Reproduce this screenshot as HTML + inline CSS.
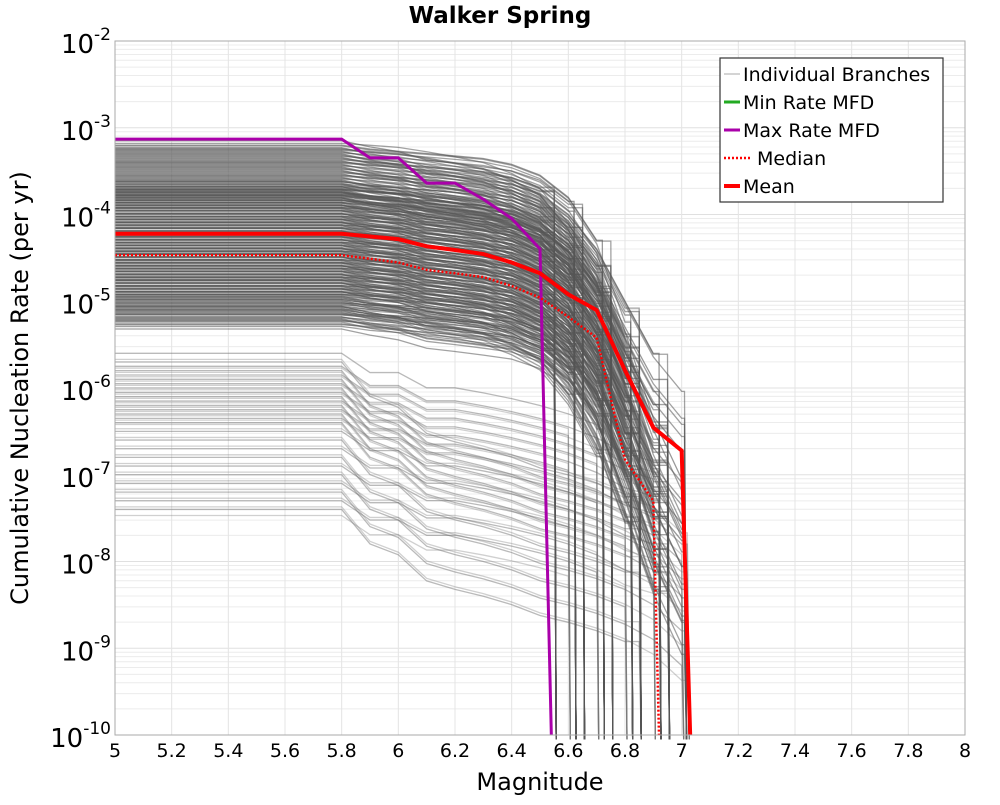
<!DOCTYPE html>
<html><head><meta charset="utf-8"><style>
body{margin:0;background:#fff;font-family:"Liberation Sans","DejaVu Sans",sans-serif}
svg text{font-family:"DejaVu Sans","Liberation Sans",sans-serif}
</style></head><body>
<svg id="chart" width="1000" height="800" viewBox="0 0 1000 800" xmlns="http://www.w3.org/2000/svg">
<text x="500" y="23" text-anchor="middle" font-size="23" font-weight="bold">Walker Spring</text>
<g id="grid"></g><g id="branches"></g><g id="summary"></g><g id="axes"></g>
<text x="540" y="790" text-anchor="middle" font-size="24">Magnitude</text>
<text transform="translate(28,388) rotate(-90)" text-anchor="middle" font-size="24">Cumulative Nucleation Rate (per yr)</text>
<g>
<rect x="720" y="58" width="223" height="144" fill="#fff" stroke="#333" stroke-width="1.2"/>
<line x1="724" x2="740" y1="74" y2="74" stroke="#aaa" stroke-width="1"/><text x="743" y="81" font-size="19">Individual Branches</text>
<line x1="724" x2="740" y1="102" y2="102" stroke="#22aa22" stroke-width="3"/><text x="743" y="109" font-size="19">Min Rate MFD</text>
<line x1="724" x2="740" y1="130" y2="130" stroke="#aa00aa" stroke-width="3"/><text x="743" y="137" font-size="19">Max Rate MFD</text>
<line x1="724" x2="750" y1="158" y2="158" stroke="#ff0000" stroke-width="2.5" stroke-dasharray="2,2"/><text x="757" y="165" font-size="19">Median</text>
<line x1="724" x2="740" y1="186" y2="186" stroke="#ff0000" stroke-width="4"/><text x="743" y="193" font-size="19">Mean</text>
</g>
</svg>
<script>
const xTicks=[5,5.2,5.4,5.6,5.8,6,6.2,6.4,6.6,6.8,7,7.2,7.4,7.6,7.8,8];
const yTickExps=[-2,-3,-4,-5,-6,-7,-8,-9,-10];
const meanM=[5.0,5.8,6.0,6.1,6.2,6.3,6.4,6.5,6.6,6.7,6.8,6.9,7.0,7.03];
const meanR=[6.0e-5,6.0e-5,5.2e-5,4.3e-5,3.9e-5,3.5e-5,2.8e-5,2.1e-5,1.2e-5,7.9e-6,1.6e-6,3.5e-7,1.9e-7,1e-10];
const medianM=[5.0,5.8,6.0,6.1,6.2,6.3,6.4,6.5,6.6,6.7,6.8,6.9,6.92];
const medianR=[3.4e-5,3.4e-5,2.8e-5,2.3e-5,2.1e-5,1.9e-5,1.5e-5,1.1e-5,6.6e-6,3.8e-6,1.5e-7,5e-8,1e-10];
const maxM=[5.0,5.8,5.9,6.0,6.1,6.2,6.3,6.4,6.5,6.54];
const maxR=[7.4e-4,7.4e-4,4.5e-4,4.5e-4,2.3e-4,2.3e-4,1.5e-4,9.0e-5,4.0e-5,1e-10];
const gridM=[5.8,5.9,6.0,6.1,6.2,6.3,6.4,6.5,6.6,6.7,6.8,6.9,7.0];
const tmplA=[1,0.85,0.75,0.6,0.55,0.5,0.45,0.35,0.2,0.08,0.02,0.005,0.002];
const tmplB=[1,0.9,0.85,0.8,0.75,0.7,0.6,0.45,0.25,0.08,0.01,0.001,0.0002];
const tmplC=[1,0.6,0.6,0.4,0.4,0.35,0.3,0.25,0.2,0.15,0.1,0.08,0.07];
const tmplD=[1,0.4,0.3,0.15,0.12,0.1,0.08,0.06,0.05,0.04,0.03,0.02,0.01];
const tmplE=[1,0.95,0.9,0.8,0.7,0.6,0.45,0.3,0.12,0.03,0.004,0.0005,0.0001];
const upperStartExp=[-3.15,-3.2,-3.25,-3.3,-3.35,-3.4,-3.45,-3.5,-3.55,-3.6,-3.62,-3.65,-3.68,-3.7,-3.72,-3.75,-3.78,-3.8,-3.83,-3.86,-3.9,-3.93,-3.96,-4.0,-4.03,-4.06,-4.1,-4.13,-4.16,-4.2,-4.23,-4.26,-4.3,-4.33,-4.36,-4.4,-4.43,-4.46,-4.5,-4.53,-4.56,-4.6,-4.63,-4.66,-4.7,-4.73,-4.76,-4.8,-4.83,-4.86,-4.9,-4.94,-4.98,-5.02,-5.06,-5.1,-5.15,-5.2];
const upperEndM=[6.62,6.72,6.82,6.92,7.01,6.55,6.65,6.75,6.85,6.95];
const lowerStartExp=[-5.6,-5.7,-5.75,-5.8,-5.85,-5.9,-5.95,-6.0,-6.05,-6.1,-6.15,-6.2,-6.25,-6.3,-6.35,-6.4,-6.5,-6.6,-6.7,-6.8,-6.9,-7.0,-7.1,-7.2,-7.3,-7.4];
const lowerEndM=[6.7,6.85,6.95,7.02,6.6,6.8,6.9,7.0];

const X0=115,X1=965,Y0=41,Y1=735;
const xs=m=>X0+(m-5)/3*(X1-X0);
const ys=r=>{let l=Math.log10(r);if(l<-10.05)l=-10.05;return Y0+(-2-l)/8*(Y1-Y0);};
const NS="http://www.w3.org/2000/svg";
function mk(tag,attrs,parent){const e=document.createElementNS(NS,tag);for(const k in attrs)e.setAttribute(k,attrs[k]);parent.appendChild(e);return e;}
const grid=document.getElementById('grid'),axes=document.getElementById('axes'),br=document.getElementById('branches'),sm=document.getElementById('summary');
mk('rect',{x:X0,y:Y0,width:X1-X0,height:Y1-Y0,fill:'#fff'},grid);
for(let e=-10;e<-2;e++){for(let k=2;k<=9;k++){const l=mk('line',{x1:X0,x2:X1,y1:ys(k*Math.pow(10,e)),y2:ys(k*Math.pow(10,e)),stroke:'#ececec','stroke-width':1},grid);

}}
yTickExps.forEach(e=>{const y=ys(Math.pow(10,e));
const l=mk('line',{x1:X0,x2:X1,y1:y,y2:y,stroke:'#e0e0e0','stroke-width':1},grid);


const t=mk('text',{x:X0-4,y:y+12,'text-anchor':'end','font-size':26},axes);


t.innerHTML='10<tspan dy="-13" font-size="17">'+e+'</tspan>';});
xTicks.forEach(m=>{const x=xs(m);
const l=mk('line',{x1:x,x2:x,y1:Y0,y2:Y1,stroke:'#e4e4e4','stroke-width':1},grid);


const t=mk('text',{x:x,y:757,'text-anchor':'middle','font-size':19},axes);


t.textContent=String(m);});
const bd=mk('rect',{x:X0,y:Y0,width:X1-X0,height:Y1-Y0,fill:'none',stroke:'#aaa','stroke-width':1},axes);


const tmpls=[tmplA,tmplB,tmplE,tmplA,tmplB,tmplE];
function branch(startExp,tmpl,endM,op,col){
 const r0=Math.pow(10,startExp);let pts=[[xs(5),ys(r0)]];
 for(let i=0;i<gridM.length;i++){if(gridM[i]>endM)break;pts.push([xs(gridM[i]),ys(r0*tmpl[i])]);}
 const last=pts[pts.length-1];pts.push([xs(endM),last[1]]);pts.push([xs(endM)+2,ys(1e-11)]);
 const p=mk('polyline',{points:pts.map(p=>p.join(',')).join(' '),fill:'none',stroke:col,'stroke-opacity':op,'stroke-width':1.3},br);
 
 }
lowerStartExp.forEach((e,i)=>branch(e,i%2?tmplD:tmplC,lowerEndM[i%lowerEndM.length],0.45,'#666'));
lowerStartExp.forEach((e,i)=>branch(e-0.07,i%2?tmplC:tmplD,lowerEndM[(i+3)%lowerEndM.length],0.35,'#777'));
upperStartExp.forEach((e,i)=>branch(e,tmpls[i%tmpls.length],upperEndM[i%upperEndM.length],0.6,'#555'));
upperStartExp.forEach((e,i)=>branch(e-0.03,tmpls[(i+2)%tmpls.length],upperEndM[(i+4)%upperEndM.length],0.55,'#555'));
upperStartExp.forEach((e,i)=>branch(e-0.06,tmpls[(i+1)%tmpls.length],upperEndM[(i+7)%upperEndM.length],0.55,'#555'));
upperStartExp.forEach((e,i)=>branch(e-0.09,tmpls[(i+4)%tmpls.length],upperEndM[(i+2)%upperEndM.length],0.55,'#555'));
upperStartExp.forEach((e,i)=>branch(e-0.12,tmpls[(i+3)%tmpls.length],upperEndM[(i+5)%upperEndM.length],0.55,'#555'));
function series(M,R,attrs,name){const p=mk('polyline',Object.assign({points:M.map((m,i)=>xs(m)+','+ys(R[i])).join(' '),fill:'none'},attrs),sm);

}
series(maxM,maxR,{stroke:'#aa00aa','stroke-width':3},'max-rate-line');
series(medianM,medianR,{stroke:'#ff0000','stroke-width':2.5,'stroke-dasharray':'2,2'},'median-line');
series(meanM,meanR,{stroke:'#ff0000','stroke-width':4},'mean-line');
</script>
</body></html>
